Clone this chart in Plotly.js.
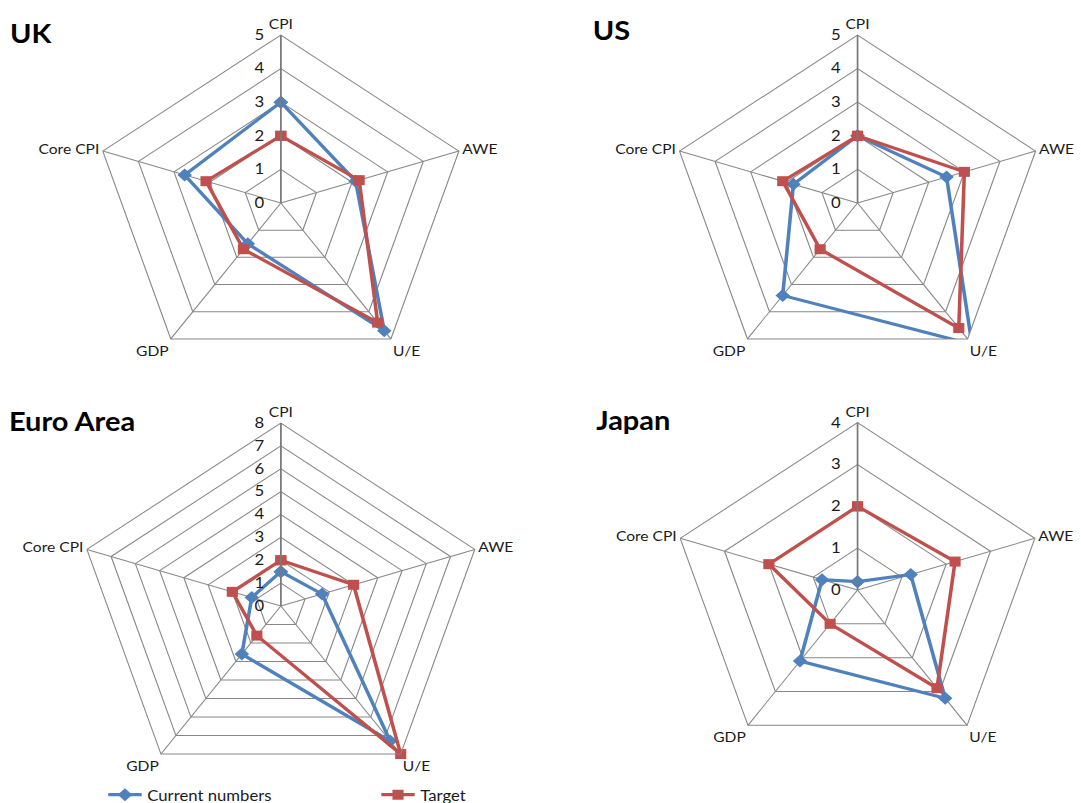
<!DOCTYPE html>
<html>
<head>
<meta charset="utf-8">
<script src="https://cdn.plot.ly/plotly-3.0.1.min.js"></script>
<style>
  html, body { margin: 0; padding: 0; background: #ffffff; overflow: hidden; }
  #wrap { width: 1081px; height: 803px; overflow: hidden; }
  #chart { width: 970px; height: 803px; transform: scaleX(1.1144); transform-origin: 0 0; }
</style>
</head>
<body>
<div id="wrap"><div id="chart"></div></div>
<script>
// ---- data ----
const categories = ['CPI', 'AWE', 'U/E', 'GDP', 'Core CPI'];
const seriesNames = ['Current numbers', 'Target'];
const ukCurrent = [3.0, 2.1, 4.7, 1.5, 2.7];
const ukTarget  = [2.0, 2.2, 4.4, 1.7, 2.1];
const usCurrent = [2.0, 2.5, 5.2, 3.4, 1.8];
const usTarget  = [2.0, 3.0, 4.6, 1.7, 2.1];
const euCurrent = [1.5, 1.7, 7.3, 2.6, 1.2];
const euTarget  = [2.0, 3.0, 8.0, 1.6, 2.0];
const jpCurrent = [0.2, 1.2, 3.2, 2.1, 0.8];
const jpTarget  = [2.0, 2.2, 2.9, 1.0, 2.0];
const panelTitles = ['UK', 'US', 'Euro Area', 'Japan'];
const radialMax = [5, 5, 8, 4];

// ---- styling ----
const FONT = 'Lato, "Open Sans", sans-serif';
const BLUE = '#4F81BD';
const RED = '#C0504D';
const GRID = '#878787';
const W = 970, H = 803;

function closeLoop(a) { return a.concat([a[0]]); }

const panels = [
  { id: 'polar',  cur: ukCurrent, tgt: ukTarget, cx: 252,   cy: 203, r: 168 },
  { id: 'polar2', cur: usCurrent, tgt: usTarget, cx: 769.5, cy: 203, r: 168 },
  { id: 'polar3', cur: euCurrent, tgt: euTarget, cx: 252,   cy: 606, r: 183 },
  { id: 'polar4', cur: jpCurrent, tgt: jpTarget, cx: 769.5, cy: 590, r: 167.3 }
];

const data = [];
const layout = {
  width: W, height: H,
  margin: { l: 0, r: 0, t: 0, b: 0, autoexpand: false },
  paper_bgcolor: '#ffffff',
  plot_bgcolor: '#ffffff',
  font: { family: FONT, size: 14, color: '#1a1a1a' },
  showlegend: true,
  legend: {
    orientation: 'h', x: 0.095, xanchor: 'left', y: 0.01, yanchor: 'middle',
    font: { family: FONT, size: 15, color: '#1a1a1a' },
    entrywidth: 200, entrywidthmode: 'pixels', bgcolor: 'rgba(0,0,0,0)'
  },
  annotations: []
};

const titlePos = [
  { x: 7, y: 33 }, { x: 530, y: 30 }, { x: 6, y: 421 }, { x: 533, y: 420 }
];

panels.forEach((p, i) => {
  const sub = p.id;
  data.push({
    type: 'scatterpolar', subplot: sub,
    theta: closeLoop(categories), r: closeLoop(p.cur),
    mode: 'lines+markers', name: seriesNames[0], legendgroup: 'cur',
    showlegend: i === 0, cliponaxis: false,
    line: { color: BLUE, width: 3.2 },
    marker: { symbol: 'diamond', size: 10, color: BLUE }
  });
  data.push({
    type: 'scatterpolar', subplot: sub,
    theta: closeLoop(categories), r: closeLoop(p.tgt),
    mode: 'lines+markers', name: seriesNames[1], legendgroup: 'tgt',
    showlegend: i === 0, cliponaxis: false,
    line: { color: RED, width: 3.2 },
    marker: { symbol: 'square', size: 10, color: RED }
  });
  layout[sub] = {
    domain: {
      x: [(p.cx - p.r) / W, (p.cx + p.r) / W],
      y: [(H - p.cy - p.r) / H, (H - p.cy + p.r) / H]
    },
    gridshape: 'linear',
    bgcolor: '#ffffff',
    radialaxis: {
      range: [0, radialMax[i]], dtick: 1, tick0: 0,
      angle: 90, side: 'counterclockwise', tickangle: 90,
      showline: true, linecolor: '#7a7a7a', linewidth: 1.5,
      gridcolor: GRID, gridwidth: 1,
      ticks: 'outside', ticklen: 9, tickcolor: 'rgba(0,0,0,0)',
      showticklabels: true,
      tickfont: { family: FONT, size: 15, color: '#1a1a1a' }
    },
    angularaxis: {
      type: 'category', categoryarray: categories,
      rotation: 90, direction: 'clockwise',
      showline: true, linecolor: GRID, linewidth: 1,
      gridcolor: GRID, gridwidth: 1, ticks: '',
      tickfont: { family: FONT, size: 14, color: '#1a1a1a' }
    }
  };
  layout.annotations.push({
    xref: 'paper', yref: 'paper',
    x: titlePos[i].x / W, y: (H - titlePos[i].y) / H,
    xanchor: 'left', yanchor: 'middle', showarrow: false,
    text: '<b>' + panelTitles[i] + '</b>',
    font: { family: FONT, size: 26, color: '#000000' }
  });
});

Plotly.newPlot('chart', data, layout, { displayModeBar: false, staticPlot: true });
</script>
</body>
</html>
